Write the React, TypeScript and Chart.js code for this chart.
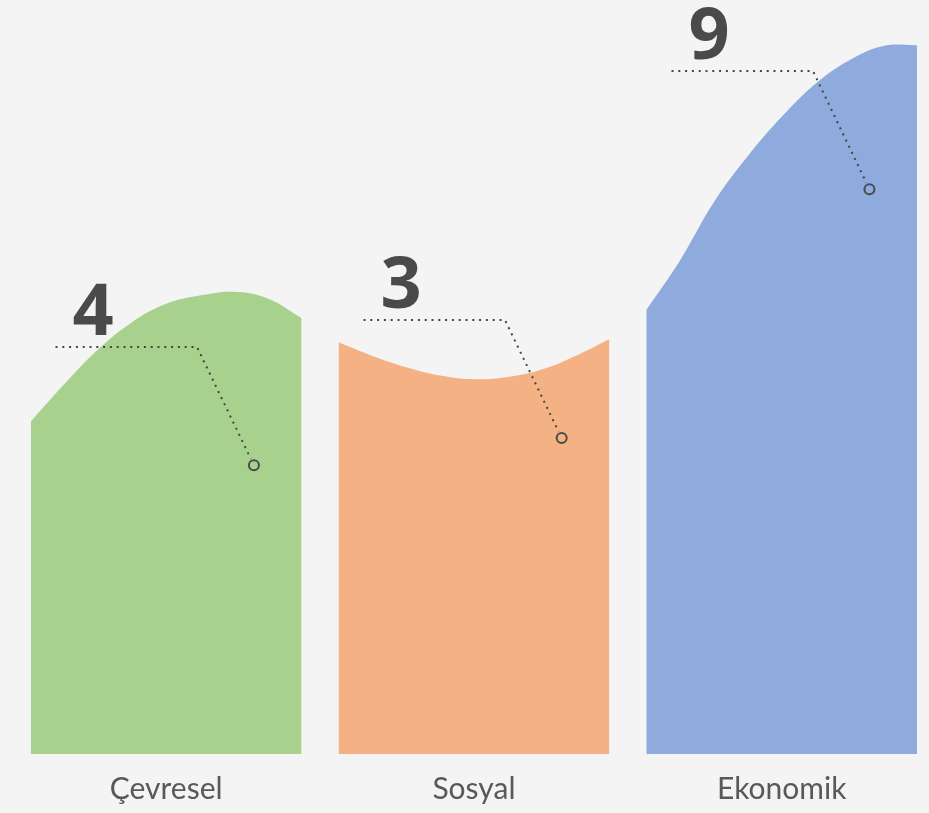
import { useEffect, useRef } from "react";
import { Chart, registerables } from "chart.js";

Chart.register(...registerables);

// ---- data ----
const categories = ["Çevresel", "Sosyal", "Ekonomik"];
const values = [4, 3, 9];
const colors = ["#a9d18e", "#f4b183", "#8faadc"];
// sample positions across each column (in category units, relative to its centre)
const profileOffsets = [-0.44, -0.33, -0.22, -0.11, 0, 0.11, 0.22, 0.33, 0.44];
// height of the curved top edge at each sample position
const cevreselProfile = [4.41, 4.91, 5.37, 5.73, 5.97, 6.08, 6.13, 6.04, 5.78];
const sosyalProfile = [5.46, 5.28, 5.13, 5.02, 4.97, 5.0, 5.1, 5.28, 5.5];
const ekonomikProfile = [5.89, 6.55, 7.32, 7.93, 8.45, 8.89, 9.2, 9.39, 9.4];
const profiles = [cevreselProfile, sosyalProfile, ekonomikProfile];
// callout marker inside each column
const markerOffset = 0.285;
const markerLevels = [3.83, 4.19, 7.49];

const TEXT_DARK = "#4a4a4c";

const leaderPlugin = {
  id: "leaders",
  afterDatasetsDraw(chart: any) {
    const meta = chart.getDatasetMeta(0);
    const ctx = chart.ctx as CanvasRenderingContext2D;
    ctx.save();
    meta.data.forEach((pt: any, i: number) => {
      const mx = pt.x;
      const my = pt.y;
      const cx = Math.round(mx - 56.5);
      const cy = Math.round(my - 118);
      const sx = cx - 141.5;
      const dx = mx - cx;
      const dy = my - cy;
      const len = Math.hypot(dx, dy);
      const ex = mx - (dx / len) * 7;
      const ey = my - (dy / len) * 7;
      ctx.beginPath();
      ctx.setLineDash([2, 4.8]);
      ctx.lineWidth = 2;
      ctx.strokeStyle = "#444446";
      ctx.moveTo(sx, cy);
      ctx.lineTo(cx, cy);
      ctx.lineTo(ex, ey);
      ctx.stroke();
      ctx.setLineDash([]);
      ctx.fillStyle = TEXT_DARK;
      ctx.font = "bold 72px 'Open Sans'";
      ctx.textAlign = "center";
      ctx.textBaseline = "alphabetic";
      ctx.fillText(String(values[i]), cx - 104, cy - 12);
    });
    ctx.restore();
  },
};

export default function App() {
  const canvasRef = useRef<HTMLCanvasElement | null>(null);

  useEffect(() => {
    if (!canvasRef.current) return;
    const areaSets = profiles.map((prof, i) => ({
      type: "line" as const,
      data: prof.map((h, k) => ({ x: i + profileOffsets[k], y: h })),
      backgroundColor: colors[i],
      borderWidth: 0,
      borderColor: colors[i],
      pointRadius: 0,
      fill: "origin",
      tension: 0.4,
      order: 2,
    }));
    const markerSet = {
      type: "scatter" as const,
      data: markerLevels.map((v, i) => ({ x: i + markerOffset, y: v })),
      pointRadius: 5,
      pointBorderWidth: 2,
      pointBorderColor: "#4a4a4c",
      pointBackgroundColor: "rgba(0,0,0,0)",
      borderColor: "#4a4a4c",
      backgroundColor: "rgba(0,0,0,0)",
      pointStyle: "circle",
      order: 0,
    };
    const chart = new Chart(canvasRef.current, {
      type: "line",
      data: { datasets: [markerSet as any, ...(areaSets as any[])] },
      options: {
        animation: false,
        responsive: true,
        maintainAspectRatio: false,
        events: [],
        layout: {
          autoPadding: false,
          padding: { left: 27.7, right: 8.8, top: 0, bottom: 0 },
        },
        plugins: {
          legend: { display: false },
          tooltip: { enabled: false },
        },
        scales: {
          x: {
            type: "linear",
            min: -0.45,
            max: 2.45,
            grid: { display: false, drawTicks: false },
            border: { display: false },
            afterBuildTicks: (scale: any) => {
              scale.ticks = categories.map((_, i) => ({ value: i }));
            },
            afterFit: (scale: any) => {
              scale.height = 59;
            },
            ticks: {
              autoSkip: false,
              maxRotation: 0,
              padding: 17,
              color: "#595959",
              font: { family: "Lato", size: 30 },
              callback: (v: any) => categories[Math.round(Number(v))] ?? "",
            },
          },
          y: {
            type: "linear",
            display: false,
            min: 0,
            max: 10,
          },
        },
      },
      plugins: [leaderPlugin],
    });
    return () => chart.destroy();
  }, []);

  return (
    <div
      style={{
        position: "fixed",
        left: 0,
        top: 0,
        width: 929,
        height: 813,
        background: "#f4f4f4",
      }}
    >
      <canvas ref={canvasRef} />
    </div>
  );
}
